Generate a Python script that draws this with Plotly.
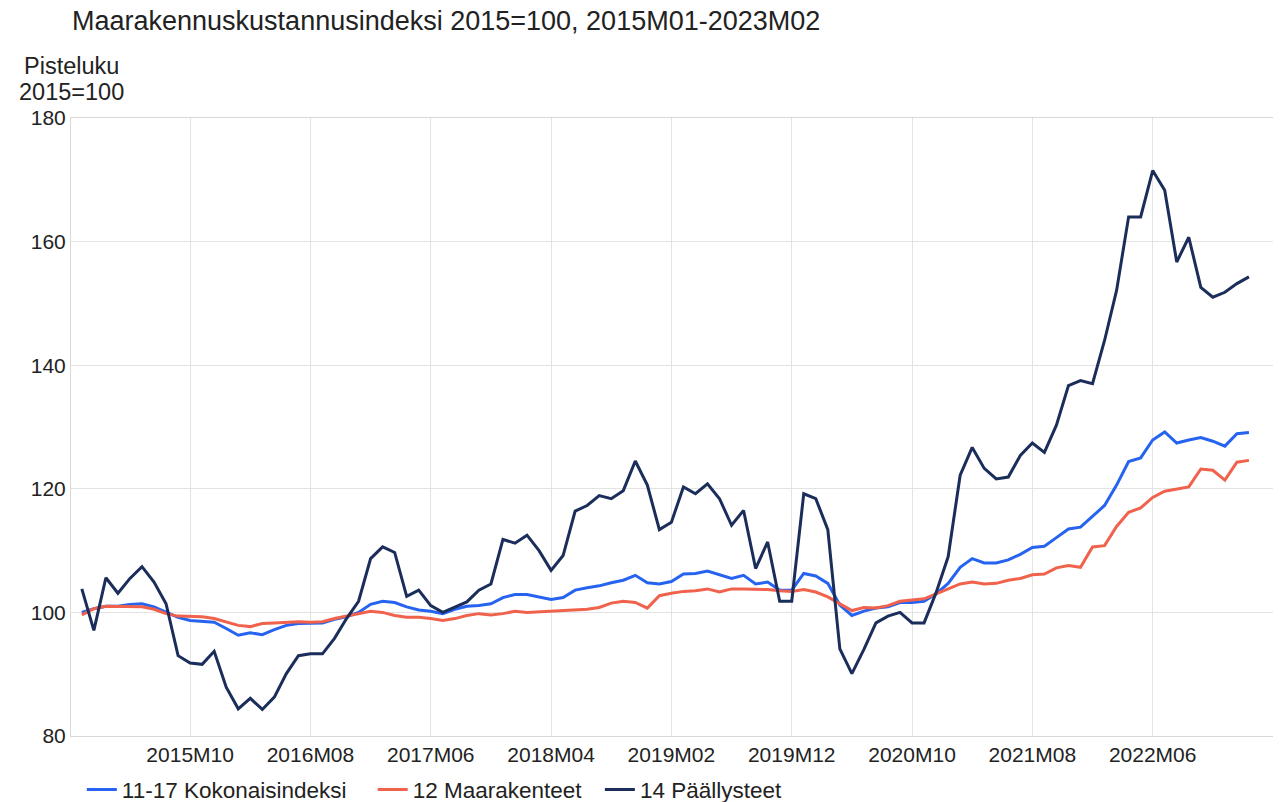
import plotly.graph_objects as go

months = [f"{y}M{m:02d}" for y in range(2015, 2024) for m in range(1, 13)][:98]

tick_labels = ["2015M10", "2016M08", "2017M06", "2018M04", "2019M02",
               "2019M12", "2020M10", "2021M08", "2022M06"]

kokonais = [100.0, 100.6, 101.0, 101.0, 101.3, 101.4, 100.9, 100.1, 99.2, 98.7,
            98.6, 98.4, 97.4, 96.3, 96.7, 96.4, 97.2, 97.9, 98.2, 98.2,
            98.3, 98.9, 99.3, 100.0, 101.3, 101.8, 101.6, 100.9, 100.4, 100.2,
            99.8, 100.5, 101.0, 101.1, 101.4, 102.4, 102.9, 102.9, 102.5, 102.1,
            102.4, 103.6, 104.0, 104.3, 104.8, 105.2, 106.0, 104.8, 104.6, 105.0,
            106.2, 106.3, 106.7, 106.1, 105.5, 106.0, 104.6, 104.9, 103.6, 103.6,
            106.3, 105.9, 104.7, 101.2, 99.5, 100.2, 100.7, 100.9, 101.6, 101.6,
            101.8, 103.0, 104.7, 107.3, 108.7, 108.0, 108.0, 108.5, 109.4, 110.5,
            110.7, 112.1, 113.5, 113.8, 115.6, 117.3, 120.6, 124.4, 125.0, 127.9,
            129.2, 127.4, 127.9, 128.3, 127.7, 126.9, 128.9, 129.1]

maarakenteet = [99.6, 100.6, 101.0, 101.0, 101.0, 100.9, 100.5, 99.8, 99.4, 99.3,
                99.3, 99.0, 98.4, 97.9, 97.7, 98.2, 98.3, 98.4, 98.5, 98.4,
                98.5, 99.0, 99.4, 99.7, 100.2, 100.0, 99.5, 99.2, 99.2, 99.0,
                98.7, 99.0, 99.5, 99.8, 99.6, 99.8, 100.2, 100.0, 100.1, 100.3,
                100.4, 100.4, 100.5, 100.8, 101.5, 101.8, 101.6, 100.7, 102.7, 103.1,
                103.4, 103.5, 103.8, 103.3, 103.8, 103.8, 103.8, 103.7, 103.5, 103.4,
                103.7, 103.3, 102.5, 101.4, 100.3, 100.8, 100.7, 101.1, 101.8, 102.0,
                102.2, 103.0, 103.8, 104.6, 104.9, 104.6, 104.7, 105.2, 105.5, 106.1,
                106.2, 107.2, 107.6, 107.3, 110.6, 110.8, 113.9, 116.2, 116.9, 118.6,
                119.6, 119.9, 120.3, 123.2, 123.0, 121.4, 124.3, 124.6]

paallysteet = [103.8, 97.1, 105.6, 103.1, 105.5, 107.4, 104.9, 101.4, 93.0, 91.8,
               91.6, 93.7, 87.9, 84.4, 86.1, 84.3, 86.3, 90.1, 93.0, 93.3,
               93.3, 95.8, 99.0, 101.8, 108.7, 110.6, 109.7, 102.6, 103.6, 101.1,
               100.0, 100.8, 101.7, 103.6, 104.6, 111.8, 111.2, 112.5, 110.0, 106.8,
               109.2, 116.4, 117.3, 118.9, 118.4, 119.7, 124.5, 120.6, 113.4, 114.6,
               120.3, 119.2, 120.8, 118.4, 114.1, 116.5, 107.1, 111.4, 101.8, 101.8,
               119.2, 118.4, 113.4, 94.1, 90.1, 94.0, 98.3, 99.4, 100.0, 98.3,
               98.3, 103.2, 109.0, 122.2, 126.7, 123.3, 121.6, 121.9, 125.4, 127.4,
               125.9, 130.3, 136.7, 137.5, 137.0, 144.0, 152.1, 164.0, 164.0, 171.5,
               168.3, 156.7, 160.7, 152.6, 151.0, 151.8, 153.2, 154.3]

series = [
    ("11-17 Kokonaisindeksi", kokonais, "#2563f0"),
    ("12 Maarakenteet", maarakenteet, "#f0624c"),
    ("14 Päällysteet", paallysteet, "#1b2d5a"),
]
legend_x = [0.009, 0.251, 0.440]

FONT = "Liberation Sans, Arial, sans-serif"
TXT = "#222"
W, H = 1273, 794  # page body has an 8px margin

fig = go.Figure()
legend_ids = ["legend", "legend2", "legend3"]
for (name, vals, col), lid in zip(series, legend_ids):
    fig.add_trace(go.Scatter(x=months, y=vals, mode="lines", name=name,
                             legend=lid, line=dict(color=col, width=3)))

legend_style = dict(orientation="h", xanchor="left", y=-0.087, yanchor="middle",
                    font=dict(size=22.5, color=TXT), itemwidth=30,
                    bgcolor="rgba(0,0,0,0)")

fig.update_layout(
    width=W, height=H,
    paper_bgcolor="white", plot_bgcolor="white",
    margin=dict(l=63, r=8, t=110, b=66, autoexpand=False),
    font=dict(family=FONT, size=21, color=TXT),
    title=dict(text="Maarakennuskustannusindeksi 2015=100, 2015M01-2023M02",
               x=64 / W, xanchor="left", xref="container",
               y=1 - 3 / H, yanchor="top", yref="container",
               font=dict(size=27, color=TXT, family=FONT)),
    showlegend=True,
    legend=dict(x=legend_x[0], **legend_style),
    legend2=dict(x=legend_x[1], **legend_style),
    legend3=dict(x=legend_x[2], **legend_style),
    annotations=[
        dict(text="Pisteluku", xref="paper", yref="paper", x=0, y=1,
             xanchor="center", yanchor="middle", yshift=118 - 66,
             showarrow=False, font=dict(size=23.5, color=TXT, family=FONT)),
        dict(text="2015=100", xref="paper", yref="paper", x=0, y=1,
             xanchor="center", yanchor="middle", yshift=118 - 92,
             showarrow=False, font=dict(size=23.5, color=TXT, family=FONT)),
    ],
)

fig.update_xaxes(type="category", range=[-0.9, 99], tickmode="array",
                 tickvals=tick_labels, ticktext=tick_labels, automargin=False,
                 showgrid=True, gridcolor="#e3e3e3", gridwidth=1,
                 showline=True, linecolor="#d8d8d8", mirror=True,
                 ticks="", tickfont=dict(size=21, color=TXT))
fig.update_yaxes(range=[80, 180], tickvals=[80, 100, 120, 140, 160, 180],
                 showgrid=True, gridcolor="#e3e3e3", gridwidth=1, automargin=False,
                 showline=True, linecolor="#d8d8d8", mirror=True,
                 zeroline=False, ticks="", tickfont=dict(size=21, color=TXT))

fig.write_html("out.html")
